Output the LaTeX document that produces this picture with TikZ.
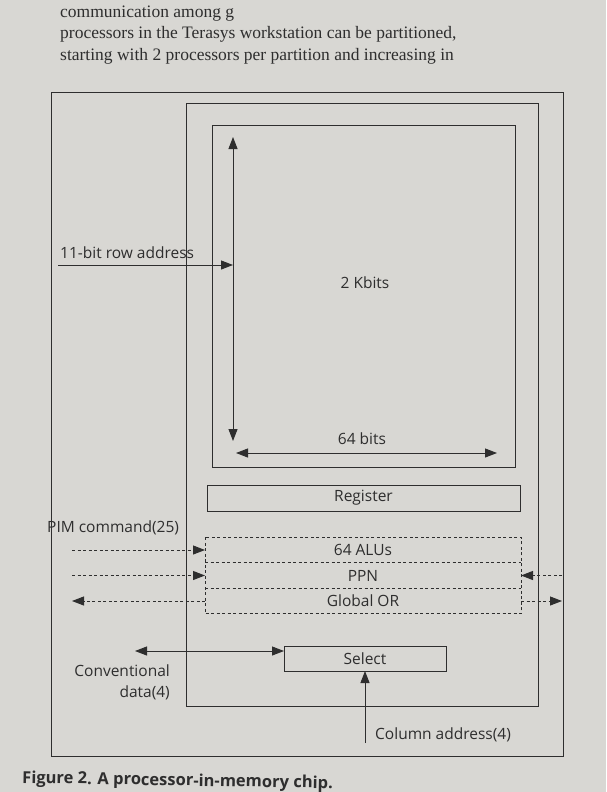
\documentclass[tikz,border=0pt]{standalone}
\usepackage{fontspec}
\setmainfont{Liberation Serif}
\setsansfont{Open Sans}
\definecolor{paper}{HTML}{D8D7D3}
\definecolor{ink}{HTML}{2E2E2E}
\newcommand{\lblfont}{\sffamily\fontsize{15.5}{21}\selectfont}
\usetikzlibrary{arrows.meta}

\begin{document}
\begin{tikzpicture}[x=1pt,y=-1pt,
  >={Triangle[length=12pt,width=9pt]},
  box/.style={draw=ink,line width=1pt,inner sep=0pt,outer sep=0pt},
  unit/.style={box,font=\lblfont,text=ink},
  cell/.style={inner sep=0pt,outer sep=0pt,minimum width=316pt,minimum height=25.5pt,font=\lblfont,text=ink},
  dbox/.style={draw=ink,line width=1pt,dash pattern=on 3pt off 2.5pt},
  flow/.style={ink,line width=1pt,->},
  dflow/.style={flow,dash pattern=on 3pt off 2.5pt},
  lbl/.style={ink,font=\lblfont,inner sep=0pt},
  txt/.style={ink,anchor=base west,inner sep=0pt,font=\fontsize{17.5}{20.5}\selectfont}]
  \useasboundingbox (0,0) rectangle (606,792);
  \fill[paper] (0,0) rectangle (606,792);
  % page text above the figure
  \node[txt] (lineA) at (60,18) {communication among g};
  \node[txt] (lineB) at (60,39) {processors in the Terasys workstation can be partitioned,};
  \node[txt] (lineC) at (60,60) {starting with 2 processors per partition and increasing in};
  % chip outline
  \node[box,minimum width=512pt,minimum height=664pt] (chip) at (307,424) {};
  \node[box,minimum width=352pt,minimum height=603pt] (core) at (362,404.5) {};
  % memory array
  \node[box,minimum width=303pt,minimum height=342pt] (array) at (363.5,296) {};
  \node[lbl] (kbits) at (365,283) {2 Kbits};
  \coordinate (colT) at (233,137);
  \coordinate (colB) at (233,441);
  \draw[flow,<->] (colT) -- (colB);
  \coordinate (bitsL) at (236,453);
  \coordinate (bitsR) at (497,453);
  \draw[flow,<->] (bitsL) -- (bitsR);
  \node[lbl] (bits) at (362,439) {64 bits};
  \coordinate (rowin) at (58,265);
  \coordinate (rowhit) at (233,265);
  \draw[flow] (rowin) -- (rowhit);
  \node[lbl,anchor=base west] (rowlbl) at (60,258) {11-bit row address};
  % register and ALU rows
  \node[unit,minimum width=313pt,minimum height=26pt] (register) at (363.5,498) {Register};
  \node[cell] (alus) at (363,550) {64 ALUs};
  \node[cell] (ppn) at (363,575.5) {PPN};
  \node[cell] (globor) at (363,601) {Global OR};
  \draw[dbox] (alus.north west) rectangle (globor.south east);
  \draw[dbox] (alus.south west) -- (alus.south east);
  \draw[dbox] (ppn.south west) -- (ppn.south east);
  \node[lbl,anchor=base west] (pimlbl) at (47,532) {PIM command(25)};
  \coordinate (pimA) at (72,550);
  \coordinate (pimB) at (72,575.5);
  \coordinate (orL) at (72,601);
  \coordinate (ppnR) at (562,575.5);
  \coordinate (orR) at (562,601);
  \draw[dflow] (pimA) -- (alus.west);
  \draw[dflow] (pimB) -- (ppn.west);
  \draw[dflow] (globor.west) -- (orL);
  \draw[dflow] (ppnR) -- (ppn.east);
  \draw[dflow] (globor.east) -- (orR);
  % select and column address
  \node[unit,minimum width=162pt,minimum height=25pt] (select) at (365,658.5) {Select};
  \coordinate (convL) at (135,651);
  \draw[flow,<->] (convL) -- ([yshift=7.5pt]select.west);
  \node[lbl,anchor=base east,align=right] (convlbl) at (170,697) {Conventional\\data(4)};
  \coordinate (colin) at (365,743);
  \draw[flow] (colin) -- (select.south);
  \node[lbl,anchor=base west] (collbl) at (375,739) {Column address(4)};
  % caption
  \node[anchor=base west,inner sep=0pt,rotate=-1,text=ink,font=\sffamily\bfseries\fontsize{16.5}{18}\selectfont] (caption) at (22,783) {Figure 2. A processor-in-memory chip.};
\end{tikzpicture}
\end{document}
